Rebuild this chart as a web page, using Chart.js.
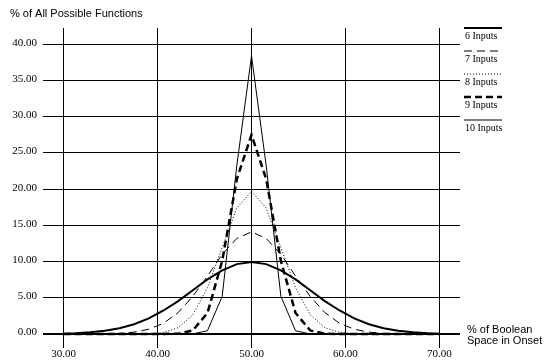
<!DOCTYPE html>
<html>
<head>
<meta charset="utf-8">
<script src="https://cdn.jsdelivr.net/npm/chart.js@4/dist/chart.umd.min.js"></script>
<style>
  html, body { margin: 0; padding: 0; background: #fff; }
  #wrap { width: 546px; height: 362px; }
</style>
</head>
<body>
<div id="wrap"><canvas id="chart" width="546" height="362"></canvas></div>
<script>
// % of Boolean space in onset (x positions of the vertices)
const onsetPct = [30, 31.25, 32.81, 34.38, 35.94, 37.5, 39.06, 40.63, 42.19, 43.75, 45.31, 46.88, 48.44,
                  50, 51.56, 53.13, 54.69, 56.25, 57.81, 59.38, 60.94, 62.5, 64.06, 65.63, 67.19, 68.75, 70];

// % of all possible functions
const inputs6  = [0.05, 0.1, 0.25, 0.45, 0.8, 1.35, 2.15, 3.25, 4.55, 6.05, 7.55, 8.8, 9.65,
                  9.95, 9.65, 8.8, 7.55, 6.05, 4.55, 3.25, 2.15, 1.35, 0.8, 0.45, 0.25, 0.1, 0.05];
const inputs7  = [0, 0, 0.01, 0.03, 0.09, 0.26, 0.66, 1.48, 2.96, 5.2, 8.0, 11.0, 13.2,
                  14.1, 13.2, 11.0, 8.0, 5.2, 2.96, 1.48, 0.66, 0.26, 0.09, 0.03, 0.01, 0, 0];
const inputs8  = [0, 0, 0, 0, 0, 0, 0.04, 0.22, 0.87, 2.66, 6.4, 11.95, 17.4,
                  19.7, 17.4, 11.95, 6.4, 2.66, 0.87, 0.22, 0.04, 0, 0, 0, 0, 0, 0];
const inputs9  = [0, 0, 0, 0, 0, 0, 0, 0, 0.05, 0.5, 2.9, 10.1, 21.4,
                  27.5, 21.4, 10.1, 2.9, 0.5, 0.05, 0, 0, 0, 0, 0, 0, 0, 0];
const inputs10 = [0, 0, 0, 0, 0, 0, 0, 0, 0, 0.01, 0.45, 5.2, 23.3,
                  38.4, 23.3, 5.2, 0.45, 0.01, 0, 0, 0, 0, 0, 0, 0, 0, 0];

const seriesLabels = ['6 Inputs', '7 Inputs', '8 Inputs', '9 Inputs', '10 Inputs'];
const xTicks = [30, 40, 50, 60, 70];
const yTicks = [0, 5, 10, 15, 20, 25, 30, 35, 40];

const toPoints = ys => ys.map((y, i) => ({ x: onsetPct[i], y }));

const styles = [
    { borderWidth: 2,   borderDash: [] },
    { borderWidth: 1,   borderDash: [8, 5] },
    { borderWidth: 1,   borderDash: [1, 2] },
    { borderWidth: 2.5, borderDash: [7, 4] },
    { borderWidth: 1,   borderDash: [] },
];

const datasets = [inputs6, inputs7, inputs8, inputs9, inputs10].map((ys, i) => ({
    label: seriesLabels[i],
    data: toPoints(ys),
    borderColor: '#000',
    borderWidth: styles[i].borderWidth,
    borderDash: styles[i].borderDash,
    pointRadius: 0,
    tension: 0,
    fill: false,
}));

// tick labels, axis captions and the stacked legend on the right
const decorations = {
    id: 'decorations',
    afterDraw(chart) {
        const { ctx, scales: { x, y } } = chart;
        ctx.save();
        ctx.fillStyle = '#000';

        ctx.font = '11px "Liberation Serif", "Times New Roman", serif';
        ctx.textAlign = 'right';
        ctx.textBaseline = 'middle';
        yTicks.forEach(v => ctx.fillText(v.toFixed(2), 37, y.getPixelForValue(v) - 1.5));

        ctx.textAlign = 'center';
        xTicks.forEach(v => ctx.fillText(v.toFixed(2), x.getPixelForValue(v), 354));

        ctx.font = '11px "Liberation Sans", Arial, sans-serif';
        ctx.textAlign = 'left';
        ctx.fillText('% of All Possible Functions', 10, 14);
        ctx.fillText('% of Boolean', 467, 330);
        ctx.fillText('Space in Onset', 467, 341);

        ctx.font = '10px "Liberation Serif", "Times New Roman", serif';
        chart.data.datasets.forEach((ds, i) => {
            const ly = 28 + i * 23;
            ctx.beginPath();
            ctx.lineWidth = ds.borderWidth;
            ctx.setLineDash(ds.borderDash);
            ctx.moveTo(464, ly);
            ctx.lineTo(502, ly);
            ctx.stroke();
            ctx.fillText(ds.label, 465, ly + 8.5);
        });
        ctx.restore();
    }
};

new Chart(document.getElementById('chart'), {
    type: 'line',
    data: { datasets },
    options: {
        responsive: false,
        animation: false,
        layout: { padding: { left: 43, right: 86, top: 28, bottom: 14 } },
        plugins: { legend: { display: false }, tooltip: { enabled: false } },
        scales: {
            x: {
                type: 'linear',
                min: 27.8,
                max: 72.2,
                afterBuildTicks: s => { s.ticks = xTicks.map(v => ({ value: v })); },
                ticks: { display: false },
                border: { display: false },
                grid: { color: '#000', lineWidth: 1, drawTicks: false },
            },
            y: {
                min: -1.93,
                max: 42.25,
                afterBuildTicks: s => { s.ticks = yTicks.map(v => ({ value: v })); },
                ticks: { display: false },
                border: { display: false },
                grid: {
                    color: '#000',
                    lineWidth: c => (c.tick && c.tick.value === 0 ? 2 : 1),
                    drawTicks: false,
                },
            },
        },
    },
    plugins: [decorations],
});
</script>
</body>
</html>
